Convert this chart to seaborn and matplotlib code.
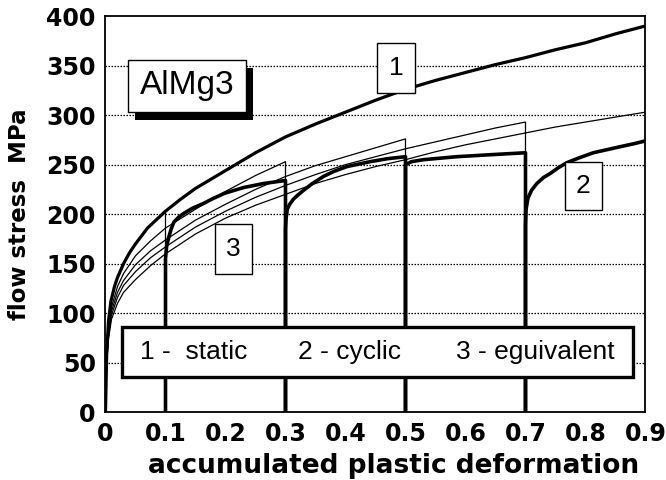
import seaborn as sns
from matplotlib import pyplot as plt
from matplotlib.patches import Rectangle
import pandas as pd

# --- data ------------------------------------------------------------------
x_ticks = [0, 0.1, 0.2, 0.3, 0.4, 0.5, 0.6, 0.7, 0.8, 0.9]
x_tick_labels = ["0", "0.1", "0.2", "0.3", "0.4", "0.5", "0.6", "0.7", "0.8", "0.9"]
y_ticks = [0, 50, 100, 150, 200, 250, 300, 350, 400]

# 1 - static
static_strain = [0, 0.002, 0.005, 0.009, 0.015, 0.02, 0.03, 0.04, 0.05, 0.07, 0.1, 0.125, 0.15,
                 0.2, 0.25, 0.3, 0.35, 0.4, 0.45, 0.5, 0.55, 0.6, 0.65, 0.7, 0.75, 0.8, 0.85, 0.9]
static_stress = [0, 60, 92, 112, 127, 136, 150, 161, 170, 186, 203, 215, 226,
                 244, 262, 278, 291, 303, 315, 326, 335, 343, 351, 358, 366, 373, 382, 390]

# 2 - cyclic (reloading segments, each one drops back to zero)
cyc1_strain = [0.1, 0.1, 0.102, 0.106, 0.11, 0.114, 0.122, 0.131, 0.145, 0.164, 0.18, 0.198,
               0.231, 0.264, 0.3, 0.3]
cyc1_stress = [0, 155, 168, 178, 186, 192, 197, 201, 206, 211, 216, 221, 227, 231, 234, 0]
cyc2_strain = [0.3, 0.3, 0.301, 0.303, 0.307, 0.313, 0.32, 0.33, 0.345, 0.363, 0.38, 0.402,
               0.441, 0.47, 0.5, 0.5]
cyc2_stress = [0, 185, 196, 205, 210, 215, 219, 224, 231, 238, 243, 248, 253, 256, 258, 0]
cyc3_strain = [0.5, 0.5, 0.51, 0.53, 0.585, 0.641, 0.7, 0.7]
cyc3_stress = [0, 250, 253, 255, 258, 260, 262, 0]
cyc4_strain = [0.7, 0.7, 0.701, 0.704, 0.71, 0.719, 0.73, 0.741, 0.755, 0.769, 0.79, 0.813,
               0.835, 0.857, 0.88, 0.9]
cyc4_stress = [0, 190, 205, 216, 224, 231, 237, 241, 247, 252, 257, 262, 265, 268, 271, 274]

# 3 - equivalent curves (thin), each ends with a drop to zero
eq0_strain = [0, 0.002, 0.005, 0.009, 0.015, 0.02, 0.03, 0.04, 0.05, 0.07, 0.1, 0.1]
eq0_stress = [0, 60, 92, 112, 127, 136, 150, 161, 170, 186, 203, 0]
eq1_strain = [0, 0.002, 0.005, 0.01, 0.02, 0.03, 0.05, 0.075, 0.1, 0.15, 0.2, 0.25, 0.3, 0.3]
eq1_stress = [0, 55, 85, 106, 127, 140, 158, 173, 186, 205, 223, 239, 253, 0]
eq2_strain = [0, 0.002, 0.005, 0.01, 0.02, 0.03, 0.05, 0.075, 0.1, 0.15, 0.2, 0.25, 0.3,
              0.35, 0.4, 0.45, 0.5, 0.5]
eq2_stress = [0, 52, 80, 102, 121, 133, 149, 163, 174, 194, 210, 225, 238, 249, 258, 267, 276, 0]
eq3_strain = [0, 0.002, 0.005, 0.01, 0.02, 0.03, 0.05, 0.075, 0.1, 0.15, 0.2, 0.25, 0.3,
              0.35, 0.4, 0.45, 0.5, 0.55, 0.6, 0.65, 0.7, 0.7]
eq3_stress = [0, 50, 77, 98, 116, 128, 142, 156, 167, 187, 203, 217, 229, 240, 250, 258, 266,
              273, 280, 287, 293, 0]
eq4_strain = [0, 0.002, 0.005, 0.01, 0.02, 0.03, 0.05, 0.075, 0.1, 0.15, 0.2, 0.25, 0.3,
              0.35, 0.4, 0.45, 0.5, 0.55, 0.6, 0.65, 0.7, 0.75, 0.8, 0.85, 0.9]
eq4_stress = [0, 48, 74, 94, 110, 121, 134, 148, 160, 180, 196, 209, 220, 231, 240, 248, 255,
              263, 270, 276, 282, 288, 293, 298, 303]

legend_items = ["1 -  static", "2 - cyclic", "3 - eguivalent"]
curve_labels = ["1", "2", "3"]
material = "AlMg3"

# --- style -------------------------------------------------------------------
sns.set_theme(style="white")
plt.rcParams['font.family'] = ['Liberation Sans', 'DejaVu Sans']
plt.rcParams['text.color'] = 'black'

fig = plt.figure(figsize=(6.66, 4.8), dpi=100)
ax = fig.add_axes([0.1584, 0.141, 0.8108, 0.8256])

# thin equivalent curves
for xs, ys in [(eq0_strain, eq0_stress), (eq1_strain, eq1_stress), (eq2_strain, eq2_stress),
               (eq3_strain, eq3_stress), (eq4_strain, eq4_stress)]:
    df = pd.DataFrame({"strain": xs, "stress": ys})
    sns.lineplot(data=df, x="strain", y="stress", sort=False, estimator=None,
                 color="black", lw=0.9, ax=ax)

# thick cyclic segments
for xs, ys in [(cyc1_strain, cyc1_stress), (cyc2_strain, cyc2_stress),
               (cyc3_strain, cyc3_stress), (cyc4_strain, cyc4_stress)]:
    df = pd.DataFrame({"strain": xs, "stress": ys})
    sns.lineplot(data=df, x="strain", y="stress", sort=False, estimator=None,
                 color="black", lw=2.6, ax=ax)

# thick static curve
df = pd.DataFrame({"strain": static_strain, "stress": static_stress})
sns.lineplot(data=df, x="strain", y="stress", sort=False, estimator=None,
             color="black", lw=2.3, ax=ax)

ax.set_xlim(0, 0.9)
ax.set_ylim(0, 400)
ax.set_xticks(x_ticks)
ax.set_xticklabels(x_tick_labels)
ax.set_yticks(y_ticks)
for v in y_ticks[1:-1]:
    ax.axhline(v, color="black", ls=(0, (1.2, 1.2)), lw=0.9, zorder=0.5)

for s in ax.spines.values():
    s.set_color("black")
    s.set_linewidth(1.3)
ax.tick_params(direction="out", length=5, width=1.2, colors="black", pad=2)
for lab in ax.get_xticklabels() + ax.get_yticklabels():
    lab.set_fontfamily("DejaVu Sans")
    lab.set_fontweight("heavy")
    lab.set_fontsize(17)

ax.set_xlabel("accumulated plastic deformation", fontsize=19, fontweight="bold",
              family="DejaVu Sans", color="black")
ax.set_ylabel("flow stress  MPa", fontsize=16.5, fontweight="bold",
              family="DejaVu Sans", color="black")
ax.xaxis.set_label_coords(0.534, -0.102)
ax.yaxis.set_label_coords(-0.138, 0.5)

# material box with shadow
ax.add_patch(Rectangle((0.0487, 295.5), 0.197, 52.3, facecolor="black",
                       edgecolor="none", zorder=5))
ax.add_patch(Rectangle((0.037, 303.6), 0.197, 52.3, facecolor="white",
                       edgecolor="black", lw=1.0, zorder=6))
ax.text(0.1355, 330, material, fontsize=24, color="black", ha="center", va="center", zorder=7)

# numbered curve labels
label_boxes = [(0.452, 322.2, 0.064, 50.5), (0.766, 204.3, 0.061, 48.8), (0.1825, 139.7, 0.062, 50.5)]
for txt, (bx, by, bw, bh) in zip(curve_labels, label_boxes):
    ax.add_patch(Rectangle((bx, by), bw, bh, facecolor="white", edgecolor="black",
                           lw=1.0, zorder=6))
    ax.text(bx + bw / 2, by + bh / 2, txt, fontsize=19, color="black",
            ha="center", va="center", zorder=7)

# legend box
ax.add_patch(Rectangle((0.027, 35.2), 0.853, 51.3, facecolor="white", edgecolor="black",
                       lw=2.4, zorder=6))
for txt, tx in zip(legend_items, [0.0575, 0.321, 0.584]):
    ax.text(tx, 61, txt, fontsize=19, color="black", ha="left", va="center", zorder=7)

fig.savefig("out.png", dpi=100)
